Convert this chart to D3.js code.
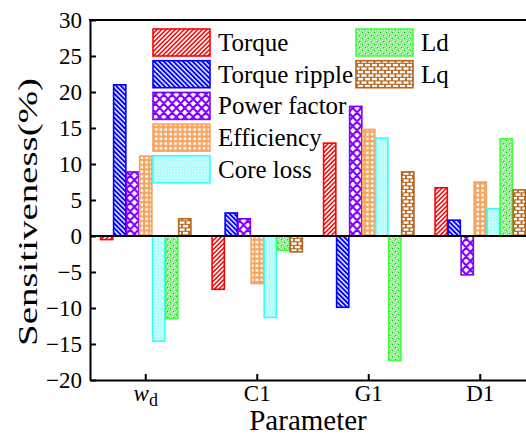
<!DOCTYPE html>
<html>
<head>
<meta charset="utf-8">
<script src="https://cdn.jsdelivr.net/npm/d3@7"></script>
<style>
  html, body { margin: 0; padding: 0; background: #fff; }
  svg { display: block; }
</style>
</head>
<body>
<svg id="chart" width="526" height="435"></svg>
<script>
// Sensitivity of each performance index to the design parameters
const categories = ["wd", "C1", "G1", "D1"];
const seriesNames = ["Torque", "Torque ripple", "Power factor", "Efficiency", "Core loss", "Ld", "Lq"];
const torque       = [-0.5, -7.4, 12.9, 6.7];
const torqueRipple = [21.0, 3.2, -9.9, 2.2];
const powerFactor  = [8.9, 2.4, 18.0, -5.4];
const efficiency   = [11.1, -6.6, 14.8, 7.5];
const coreLoss     = [-14.6, -11.3, 13.6, 3.8];
const ld           = [-11.5, -2.0, -17.3, 13.5];
const lq           = [2.4, -2.2, 8.9, 6.4];
const yTickValues  = [-20, -15, -10, -5, 0, 5, 10, 15, 20, 25, 30];

const seriesValues = [torque, torqueRipple, powerFactor, efficiency, coreLoss, ld, lq];
const colors = ["#ff0000", "#0000ff", "#8000ff", "#f4a460", "#33ffff", "#40ff40", "#b5651d"];
const patternIds = ["pTorque", "pRipple", "pPF", "pEff", "pCore", "pLd", "pLq"];
const FONT = "'Liberation Serif', 'DejaVu Serif', 'Times New Roman', serif";

const svg = d3.select("#chart");
const plotLeft = 90, plotRight = 536, plotTop = 20, plotBottom = 380;

// ---- fill patterns ----
const defs = svg.append("defs");

function hatch(id, color, angle, period, lineW) {
  const p = defs.append("pattern").attr("id", id)
    .attr("patternUnits", "userSpaceOnUse")
    .attr("width", period).attr("height", period)
    .attr("patternTransform", `rotate(${angle})`);
  p.append("rect").attr("width", period).attr("height", period).attr("fill", "#fff");
  p.append("rect").attr("width", lineW).attr("height", period).attr("fill", color);
}
hatch("pTorque", colors[0], 45, 3.2, 1.5);
hatch("pRipple", colors[1], -45, 3.4, 2.0);

// diamond lattice
{
  const w = 8.4, h = 9;
  const p = defs.append("pattern").attr("id", "pPF")
    .attr("patternUnits", "userSpaceOnUse").attr("width", w).attr("height", h);
  p.append("rect").attr("width", w).attr("height", h).attr("fill", "#fff");
  let d = "";
  for (let k = -1; k <= 1; k++) {
    d += `M${k * w},0L${k * w + w},${h}M${k * w + w},0L${k * w},${h}`;
  }
  p.append("path").attr("d", d).attr("stroke", colors[2]).attr("stroke-width", 2.2).attr("fill", "none");
}

// grid with small white windows
{
  const w = 4.8, h = 4.7;
  const p = defs.append("pattern").attr("id", "pEff")
    .attr("patternUnits", "userSpaceOnUse").attr("width", w).attr("height", h);
  p.append("rect").attr("width", w).attr("height", h).attr("fill", colors[3]);
  p.append("rect").attr("x", 1.3).attr("y", 1.3).attr("width", 2.6).attr("height", 2.5).attr("fill", "#fff");
}

// fine cyan dots
{
  const p = defs.append("pattern").attr("id", "pCore")
    .attr("patternUnits", "userSpaceOnUse").attr("width", 3).attr("height", 3);
  p.append("rect").attr("width", 3).attr("height", 3).attr("fill", "#a8fcfc");
  p.append("rect").attr("x", 0).attr("y", 0).attr("width", 1).attr("height", 1).attr("fill", "#ffffff");
  p.append("rect").attr("x", 1.5).attr("y", 1.5).attr("width", 1).attr("height", 1).attr("fill", "#ffffff");
}

// speckled green
{
  const s = 6;
  const p = defs.append("pattern").attr("id", "pLd")
    .attr("patternUnits", "userSpaceOnUse").attr("width", s).attr("height", s);
  p.append("rect").attr("width", s).attr("height", s).attr("fill", "#86f286");
  [[0, 0], [3, 1], [1, 3], [4, 4], [5, 2], [2, 5]].forEach(([x, y]) =>
    p.append("rect").attr("x", x).attr("y", y).attr("width", 1.1).attr("height", 1.1).attr("fill", "#fff"));
  [[2, 2], [5, 5]].forEach(([x, y]) =>
    p.append("rect").attr("x", x).attr("y", y).attr("width", 1).attr("height", 1).attr("fill", "#22bb22"));
}

// brick
{
  const w = 7, h = 7;
  const p = defs.append("pattern").attr("id", "pLq")
    .attr("patternUnits", "userSpaceOnUse").attr("width", w).attr("height", h);
  p.append("rect").attr("width", w).attr("height", h).attr("fill", colors[6]);
  p.append("rect").attr("x", 0.9).attr("y", 0.9).attr("width", 5.2).attr("height", 2.4).attr("fill", "#fff");
  p.append("rect").attr("x", -2.6).attr("y", 4.4).attr("width", 5.2).attr("height", 2.4).attr("fill", "#fff");
  p.append("rect").attr("x", 4.4).attr("y", 4.4).attr("width", 5.2).attr("height", 2.4).attr("fill", "#fff");
}

// ---- scales ----
const x0 = d3.scaleBand().domain(categories).range([plotLeft, plotRight])
  .paddingInner(0.19).paddingOuter(0.095);
const x1 = d3.scaleBand().domain(seriesNames).range([0, x0.bandwidth()]).paddingInner(0.06);
const y = d3.scaleLinear().domain([-20, 30]).range([plotBottom, plotTop]);

// ---- bars ----
const barData = [];
seriesNames.forEach((name, si) => {
  categories.forEach((cat, ci) => {
    barData.push({ name, si, cat, v: seriesValues[si][ci] });
  });
});

svg.append("g").selectAll("rect").data(barData).join("rect")
  .attr("x", d => x0(d.cat) + x1(d.name))
  .attr("width", x1.bandwidth())
  .attr("y", d => y(Math.max(0, d.v)))
  .attr("height", d => Math.abs(y(d.v) - y(0)))
  .attr("fill", d => `url(#${patternIds[d.si]})`)
  .attr("stroke", d => colors[d.si])
  .attr("stroke-width", 1.6);

// zero line
svg.append("line")
  .attr("x1", plotLeft).attr("x2", plotRight)
  .attr("y1", y(0)).attr("y2", y(0))
  .attr("stroke", "#000").attr("stroke-width", 2);

// ---- axes ----
const yAxis = d3.axisLeft(y).tickValues(yTickValues)
  .tickSizeInner(-6).tickSizeOuter(0).tickPadding(8);
const gy = svg.append("g").attr("transform", `translate(${plotLeft},0)`).call(yAxis);
gy.attr("font-family", FONT);
gy.selectAll("text").style("font-family", FONT).style("font-size", "23px")
  .attr("fill", "#000").attr("dy", "0.34em");

const xAxis = d3.axisBottom(x0).tickSizeInner(-6).tickSizeOuter(0).tickPadding(5);
const gx = svg.append("g").attr("transform", `translate(0,${plotBottom})`).call(xAxis);
gx.attr("font-family", FONT);
gx.selectAll("text").style("font-family", FONT).style("font-size", "23px")
  .attr("fill", "#000").attr("dy", "0.71em")
  .each(function (d) {
    if (d === "wd") {
      const t = d3.select(this).text("");
      t.append("tspan").style("font-style", "italic").text("w");
      t.append("tspan").attr("dy", "0.25em").style("font-size", "18px").text("d");
    }
  });

[gx, gy].forEach(g => {
  g.select(".domain").attr("stroke", "#000").attr("stroke-width", 2);
  g.selectAll(".tick line").attr("stroke", "#000").attr("stroke-width", 2);
});

// frame top and right
svg.append("line").attr("x1", plotLeft - 1).attr("x2", plotRight)
  .attr("y1", plotTop).attr("y2", plotTop).attr("stroke", "#000").attr("stroke-width", 2);
svg.append("line").attr("x1", plotRight).attr("x2", plotRight)
  .attr("y1", plotTop).attr("y2", plotBottom).attr("stroke", "#000").attr("stroke-width", 2);

// axis titles
svg.append("text")
  .attr("x", 308).attr("y", 430)
  .attr("text-anchor", "middle")
  .style("font-family", FONT)
  .style("font-size", "29px")
  .text("Parameter");

svg.append("text")
  .attr("transform", "translate(37,212) rotate(-90)")
  .attr("text-anchor", "middle")
  .attr("textLength", 268).attr("lengthAdjust", "spacingAndGlyphs")
  .style("font-family", FONT)
  .style("font-size", "27px")
  .text("Sensitiveness(%)");

// ---- legend ----
const legendPos = [
  [153, 29], [153, 60.7], [153, 92.4], [153, 124.1], [153, 155.8],
  [356, 29], [356, 60.7]
];
const lg = svg.append("g");
seriesNames.forEach((name, i) => {
  const [lx, ly] = legendPos[i];
  lg.append("rect")
    .attr("x", lx).attr("y", ly).attr("width", 57).attr("height", 27)
    .attr("fill", `url(#${patternIds[i]})`)
    .attr("stroke", colors[i]).attr("stroke-width", 1.6);
  lg.append("text")
    .attr("x", lx + 65).attr("y", ly + 22)
    .style("font-family", FONT)
    .style("font-size", "25px")
    .text(name);
});
</script>
</body>
</html>
